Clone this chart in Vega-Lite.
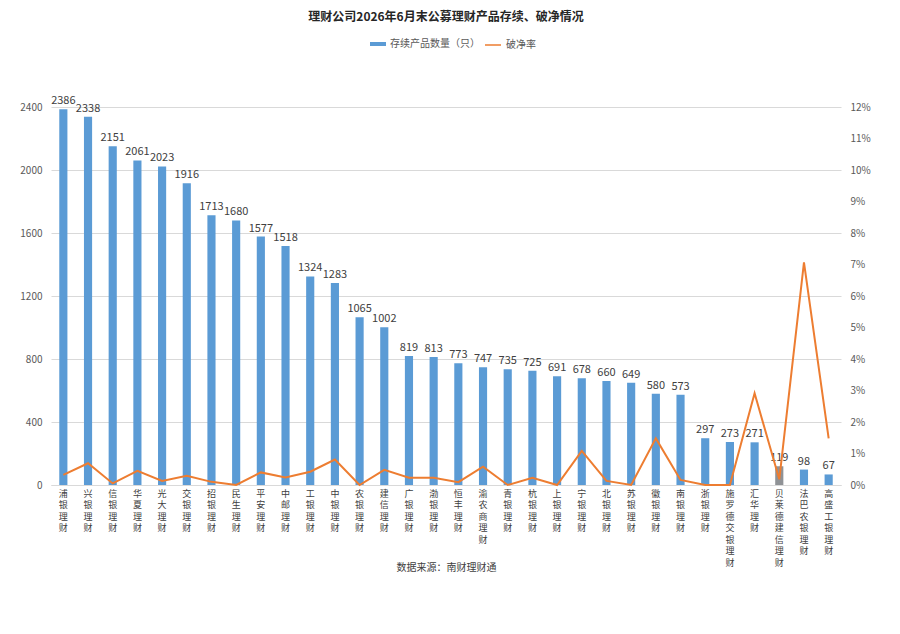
{
  "$schema": "https://vega.github.io/schema/vega-lite/v6.json",
  "autosize": "none",
  "width": 790,
  "height": 378,
  "padding": {"left": 51, "top": 107, "right": 59, "bottom": 149},
  "background": "white",
  "title": {
    "text": "理财公司2026年6月末公募理财产品存续、破净情况",
    "anchor": "middle",
    "frame": "group",
    "fontSize": 12,
    "fontWeight": "bold",
    "color": "#262626",
    "font": "Noto Sans CJK SC",
    "offset": 12
  },
  "config": {
    "font": "Noto Sans CJK SC",
    "view": {"stroke": null},
    "axis": {"labelFont": "Noto Sans CJK SC", "labelColor": "#595959", "labelFontSize": 10, "titleFont": "Noto Sans CJK SC"},
    "legend": {"labelFont": "Noto Sans CJK SC", "labelColor": "#595959", "labelFontSize": 10}
  },
  "data": {
    "values": [
      {"name": "浦银理财", "count": 2386, "rate": 0.0032},
      {"name": "兴银理财", "count": 2338, "rate": 0.0069},
      {"name": "信银理财", "count": 2151, "rate": 0.0005},
      {"name": "华夏理财", "count": 2061, "rate": 0.0045},
      {"name": "光大理财", "count": 2023, "rate": 0.0013},
      {"name": "交银理财", "count": 1916, "rate": 0.0029},
      {"name": "招银理财", "count": 1713, "rate": 0.0010},
      {"name": "民生理财", "count": 1680, "rate": 0.0000},
      {"name": "平安理财", "count": 1577, "rate": 0.0040},
      {"name": "中邮理财", "count": 1518, "rate": 0.0024},
      {"name": "工银理财", "count": 1324, "rate": 0.0042},
      {"name": "中银理财", "count": 1283, "rate": 0.0081},
      {"name": "农银理财", "count": 1065, "rate": 0.0000},
      {"name": "建信理财", "count": 1002, "rate": 0.0048},
      {"name": "广银理财", "count": 819, "rate": 0.0023},
      {"name": "渤银理财", "count": 813, "rate": 0.0023},
      {"name": "恒丰理财", "count": 773, "rate": 0.0009},
      {"name": "渝农商理财", "count": 747, "rate": 0.0058},
      {"name": "青银理财", "count": 735, "rate": 0.0000},
      {"name": "杭银理财", "count": 725, "rate": 0.0023},
      {"name": "上银理财", "count": 691, "rate": 0.0000},
      {"name": "宁银理财", "count": 678, "rate": 0.0108},
      {"name": "北银理财", "count": 660, "rate": 0.0013},
      {"name": "苏银理财", "count": 649, "rate": 0.0000},
      {"name": "徽银理财", "count": 580, "rate": 0.0148},
      {"name": "南银理财", "count": 573, "rate": 0.0016},
      {"name": "浙银理财", "count": 297, "rate": 0.0000},
      {"name": "施罗德交银理财", "count": 273, "rate": 0.0000},
      {"name": "汇华理财", "count": 271, "rate": 0.0291},
      {"name": "贝莱德建信理财", "count": 119, "rate": 0.0018},
      {"name": "法巴农银理财", "count": 98, "rate": 0.0707},
      {"name": "高盛工银理财", "count": 67, "rate": 0.0148}
    ]
  },
  "encoding": {
    "x": {
      "field": "name",
      "type": "nominal",
      "sort": null,
      "scale": {"paddingInner": 0.67, "paddingOuter": 0.335},
      "axis": {
        "title": "数据来源：南财理财通",
        "titleFontSize": 10,
        "titleFontWeight": "normal",
        "titleColor": "#404040",
        "titleY": 82,
        "titleBaseline": "middle",
        "labelAngle": 0,
        "labelExpr": "split(datum.label, '')",
        "labelLineHeight": 11.5,
        "labelFontSize": 9,
        "labelColor": "#404040",
        "labelBaseline": "top",
        "labelPadding": 4,
        "ticks": false,
        "domain": true,
        "domainColor": "#d9d9d9",
        "labelOverlap": false
      }
    }
  },
  "layer": [
    {
      "layer": [
        {
          "mark": {"type": "bar"},
          "encoding": {
            "y": {
              "field": "count",
              "type": "quantitative",
              "scale": {"domain": [0, 2400], "nice": false},
              "axis": {
                "title": null,
                "format": "d",
                "values": [0, 200, 400, 600, 800, 1000, 1200, 1400, 1600, 1800, 2000, 2200, 2400],
                "labelOverlap": false,
                "domain": false,
                "ticks": false,
                "gridColor": "#d9d9d9",
                "labelPadding": 9
              }
            },
            "fill": {
              "condition": {"test": "datum.name === '贝莱德建信理财'", "value": "#8f9296"},
              "datum": "存续产品数量（只）",
              "scale": {"range": ["#5b9bd5"]},
              "legend": {
                "title": null,
                "orient": "none",
                "legendX": 319,
                "legendY": -71,
                "symbolType": "M-1,-0.25L1,-0.25L1,0.25L-1,0.25Z",
                "symbolSize": 256,
                "symbolStrokeWidth": 0
              }
            }
          }
        },
        {
          "mark": {"type": "text", "baseline": "bottom", "dy": -3, "fontSize": 11, "color": "#404040"},
          "encoding": {
            "y": {"field": "count", "type": "quantitative"},
            "text": {"field": "count", "type": "quantitative"}
          }
        }
      ]
    },
    {
      "mark": {"type": "line", "strokeWidth": 2},
      "encoding": {
        "y": {
          "field": "rate",
          "type": "quantitative",
          "scale": {"domain": [0, 0.12], "nice": false},
          "axis": {
            "orient": "right",
            "title": null,
            "format": ".0%",
            "values": [0, 0.01, 0.02, 0.03, 0.04, 0.05, 0.06, 0.07, 0.08, 0.09, 0.1, 0.11, 0.12],
            "labelOverlap": false,
            "grid": false,
            "domain": false,
            "ticks": false,
            "labelPadding": 9
          }
        },
        "stroke": {
          "datum": "破净率",
          "scale": {"range": ["#ed7d31"]},
          "legend": {
            "title": null,
            "orient": "none",
            "legendX": 433,
            "legendY": -71,
            "symbolType": "stroke",
            "symbolSize": 256,
            "symbolStrokeWidth": 1.5
          }
        }
      }
    }
  ],
  "resolve": {"scale": {"y": "independent", "fill": "independent", "stroke": "independent"}}
}
